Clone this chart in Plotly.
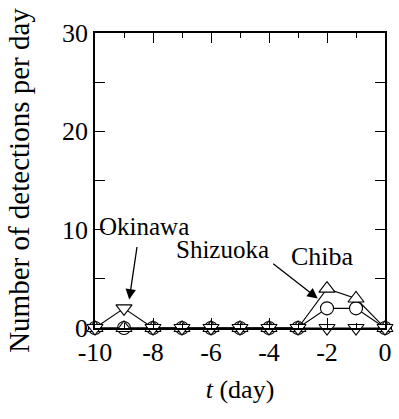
import plotly.graph_objects as go

days = [-10, -9, -8, -7, -6, -5, -4, -3, -2, -1, 0]
chiba = [0, 0, 0, 0, 0, 0, 0, 0, 4, 3, 0]
shizuoka = [0, 0, 0, 0, 0, 0, 0, 0, 2, 2, 0]
okinawa = [0, 2, 0, 0, 0, 0, 0, 0, 0, 0, 0]

x_ticks = [-10, -8, -6, -4, -2, 0]
x_labels = ["-10", "-8", "-6", "-4", "-2", "0"]
y_ticks = [0, 10, 20, 30]
y_labels = ["0", "10", "20", "30"]

FONT = "Liberation Serif, Times New Roman, serif"

fig = go.Figure()

def add(y, symbol, size):
    fig.add_trace(go.Scatter(
        x=days, y=y, mode="lines+markers",
        line=dict(color="black", width=1.1),
        marker=dict(symbol=symbol, size=size, color="white",
                    line=dict(color="black", width=1.1)),
        cliponaxis=False, showlegend=False))

add(shizuoka, "circle", 13)
add(chiba, "triangle-up", 14)
add(okinawa, "triangle-down", 14)

# labels with arrows
fig.add_annotation(x=-8.82, y=2.9, ax=8, ay=-54, axref="pixel", ayref="pixel",
                   text="", showarrow=True, arrowhead=2, arrowsize=1.6,
                   arrowwidth=1.3, arrowcolor="black")
fig.add_annotation(x=-8.3, y=10.3, text="Okinawa", showarrow=False,
                   font=dict(family=FONT, size=25, color="black"))
fig.add_annotation(x=-2.32, y=3.0, ax=-46, ay=-36, axref="pixel", ayref="pixel",
                   text="", showarrow=True, arrowhead=2, arrowsize=1.6,
                   arrowwidth=1.3, arrowcolor="black")
fig.add_annotation(x=-5.62, y=8.0, text="Shizuoka", showarrow=False,
                   font=dict(family=FONT, size=25, color="black"))
fig.add_annotation(x=-2.15, y=7.3, text="Chiba", showarrow=False,
                   font=dict(family=FONT, size=26, color="black"))

fig.update_xaxes(
    range=[-10, 0], tickvals=x_ticks, ticktext=x_labels, ticks="inside", ticklen=10, tickwidth=1.3,
    tickcolor="black", showline=True, linecolor="black", linewidth=1.5,
    mirror="allticks", showgrid=False, zeroline=False,
    minor=dict(dtick=1, ticks="inside", ticklen=5, tickwidth=1.3, tickcolor="black", showgrid=False),
    tickfont=dict(family=FONT, size=26, color="black"),
    title=dict(text="<i>t</i> (day)", font=dict(family=FONT, size=26, color="black"), standoff=14),
)
fig.update_yaxes(
    range=[0, 30], tickvals=y_ticks, ticktext=y_labels, ticks="inside", ticklen=10, tickwidth=1.3,
    tickcolor="black", showline=True, linecolor="black", linewidth=1.5,
    mirror="allticks", showgrid=False, zeroline=False,
    minor=dict(dtick=5, ticks="inside", ticklen=10, tickwidth=1.3, tickcolor="black", showgrid=False),
    tickfont=dict(family=FONT, size=26, color="black"),
    title=dict(text="Number of detections per day", font=dict(family=FONT, size=29, color="black"), standoff=24),
)

fig.update_layout(
    width=399, height=419,
    margin=dict(l=95, r=7, t=33, b=91),
    paper_bgcolor="white", plot_bgcolor="white",
    font=dict(family=FONT, color="black"),
)

fig.write_html("out.html")
